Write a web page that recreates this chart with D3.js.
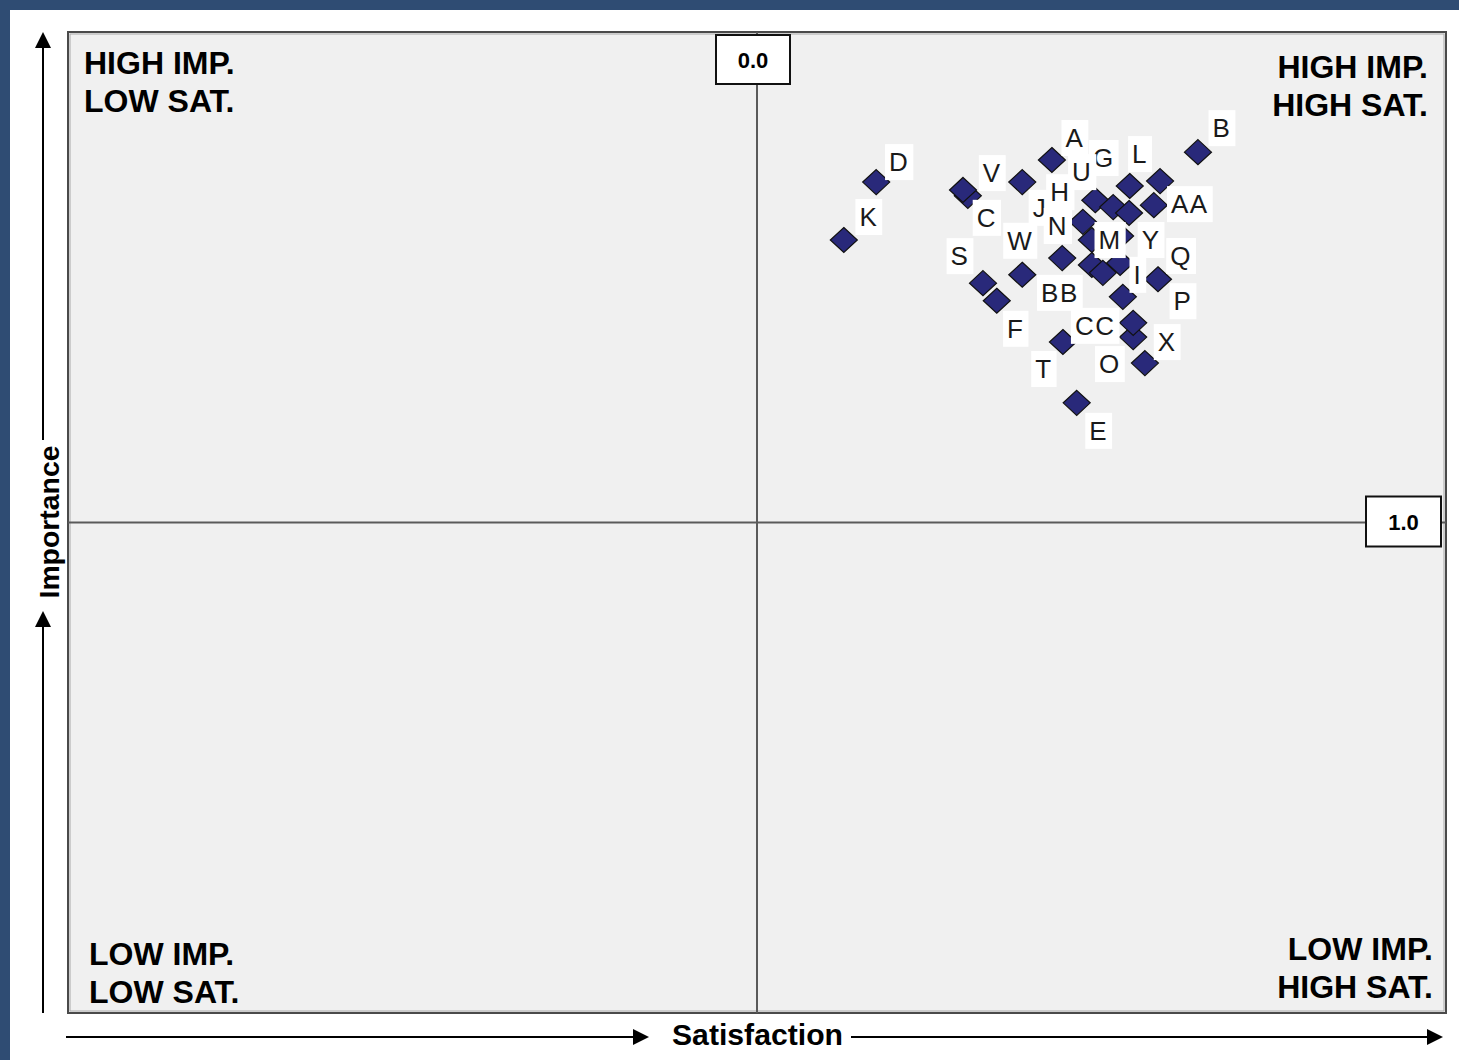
<!DOCTYPE html>
<html><head><meta charset="utf-8">
<script src="https://cdn.jsdelivr.net/npm/d3@7"></script>
<style>html,body{margin:0;padding:0;background:#fff;}svg{display:block;}</style>
</head><body>
<script>
// ---- data ----
const names = ["A","B","C","D","E","F","G","H","I","J","K","L","M","N","O","P","Q","R","S","T","U","V","W","X","Y","Z","AA","BB","CC",""];
const satisfaction = [0.428,0.640,0.306,0.173,0.464,0.348,0.541,0.491,0.531,0.473,0.126,0.585,0.527,0.486,0.563,0.582,0.527,0.299,0.328,0.444,0.517,0.385,0.385,0.546,0.540,0.486,0.576,0.502,0.546,0.443];
const importance  = [1.739,1.755,1.666,1.694,1.244,1.452,1.686,1.657,1.460,1.613,1.576,1.696,1.584,1.576,1.325,1.496,1.529,1.678,1.488,1.368,1.643,1.694,1.505,1.378,1.631,1.525,1.647,1.509,1.407,1.539];
const showLabel = [1,1,1,1,1,1,1,1,1,1,1,1,1,1,1,1,1,0,1,1,1,1,1,1,1,0,1,1,1,0];
const xTickLabel = "0.0", xTickValue = 0;
const yTickLabel = "1.0", yTickValue = 1;
const quadrantTitles = [["HIGH IMP.","LOW SAT."],["HIGH IMP.","HIGH SAT."],["LOW IMP.","LOW SAT."],["LOW IMP.","HIGH SAT."]];
const xTitle = "Satisfaction", yTitle = "Importance";

// ---- layout (label placement offsets, px) ----
const labelDx = [23,24,19,23,22,19,-26,-35,15,-43,25,-20,-10,-34,-35,25,61,0,-23,-19,-31,-30,-2,34,22,0,36,-43,-38,0];
const labelDy = [-22,-24,22,-20,28,28,-28,-8,-22,-14,-23,-27,4,-14,1,22,-7,0,-27,27,-35,-9,-34,5,27,0,-1,20,3,0];

const W = 1459, H = 1060;
const L = 68, R = 1446, T = 32, B = 1013;
const svg = d3.select("body").append("svg").attr("width", W).attr("height", H);

svg.append("rect").attr("x",0).attr("y",0).attr("width",W).attr("height",H).attr("fill","#fff");
svg.append("rect").attr("x",0).attr("y",0).attr("width",W).attr("height",10).attr("fill","#2f4c73");
svg.append("rect").attr("x",0).attr("y",0).attr("width",10).attr("height",H).attr("fill","#2f4c73");

const x = d3.scaleLinear().domain([-1,1]).range([L,R]);
const y = d3.scaleLinear().domain([0,2]).range([B,T]);

// plot area
svg.append("rect").attr("x",L).attr("y",T).attr("width",R-L).attr("height",B-T)
  .attr("fill","#f0f0f0").attr("stroke","#4a4a4a").attr("stroke-width",2);
svg.append("rect").attr("x",L+2).attr("y",T+2).attr("width",R-L-4).attr("height",B-T-4)
  .attr("fill","none").attr("stroke","#a8a8a8").attr("stroke-width",1);

// quadrant dividers
svg.append("line").attr("x1",x(xTickValue)).attr("x2",x(xTickValue)).attr("y1",T).attr("y2",B)
  .attr("stroke","#5a5a5a").attr("stroke-width",2);
svg.append("line").attr("x1",L).attr("x2",R).attr("y1",y(yTickValue)).attr("y2",y(yTickValue))
  .attr("stroke","#5a5a5a").attr("stroke-width",2);

// quadrant titles
const qf = "'Liberation Sans', Arial, sans-serif";
function qText(lines, xx, yy, anchor){
  lines.forEach((t,i)=>{
    svg.append("text").attr("x",xx).attr("y",yy+i*38).attr("text-anchor",anchor)
      .attr("font-family",qf).attr("font-weight","bold").attr("font-size",32).attr("fill","#000").text(t);
  });
}
qText(quadrantTitles[0], 84, 74, "start");
qText(quadrantTitles[1], 1428, 78, "end");
qText(quadrantTitles[2], 89, 965, "start");
qText(quadrantTitles[3], 1433, 960, "end");

// points
const diamond = "M0,-12.5L13.5,0L0,12.5L-13.5,0Z";
const pts = names.map((n,i)=>({n, sx:satisfaction[i], im:importance[i], show:showLabel[i], dx:labelDx[i], dy:labelDy[i]}));
svg.append("g").selectAll("path").data(pts).join("path")
  .attr("d", diamond)
  .attr("transform", d=>`translate(${x(d.sx)},${y(d.im)})`)
  .attr("fill","#29297a").attr("stroke","#111").attr("stroke-width",1.2);

const lg = svg.append("g");
pts.filter(d=>d.show).forEach(d=>{
  const g = lg.append("g").attr("transform",`translate(${x(d.sx)+d.dx},${y(d.im)+d.dy})`);
  const bg = g.append("rect").attr("fill","#fff");
  const t = g.append("text").attr("text-anchor","middle").attr("dominant-baseline","central")
    .attr("font-family",qf).attr("font-size",26).attr("fill","#1a1a1a").attr("letter-spacing",1.5).text(d.n);
  const bb = t.node().getBBox();
  bg.attr("x",bb.x-4).attr("y",-18).attr("width",bb.width+8).attr("height",36);
});

// tick boxes
function tickBox(cx, cy, w, h, label){
  svg.append("rect").attr("x",cx-w/2).attr("y",cy-h/2).attr("width",w).attr("height",h)
    .attr("fill","#fff").attr("stroke","#111").attr("stroke-width",2);
  svg.append("text").attr("x",cx).attr("y",cy+1).attr("text-anchor","middle").attr("dominant-baseline","central")
    .attr("font-family",qf).attr("font-weight","bold").attr("font-size",22).text(label);
}
tickBox(x(xTickValue)-4, 59.5, 74, 49, xTickLabel);
tickBox(1403.5, y(yTickValue)-1, 75, 50, yTickLabel);

// axis arrows
function arrowHead(tx, ty, dir){
  const s=16, w=8;
  let p;
  if(dir==="up") p=`M${tx},${ty}L${tx-w},${ty+s}L${tx+w},${ty+s}Z`;
  else p=`M${tx},${ty}L${tx-s},${ty-w}L${tx-s},${ty+w}Z`;
  svg.append("path").attr("d",p).attr("fill","#000");
}
const ax = 43;
svg.append("line").attr("x1",ax).attr("x2",ax).attr("y1",B).attr("y2",620).attr("stroke","#000").attr("stroke-width",2);
arrowHead(ax,611,"up");
svg.append("line").attr("x1",ax).attr("x2",ax).attr("y1",440).attr("y2",42).attr("stroke","#000").attr("stroke-width",2);
arrowHead(ax,32,"up");
svg.append("text").attr("transform",`translate(59,522) rotate(-90)`).attr("text-anchor","middle")
  .attr("font-family",qf).attr("font-weight","bold").attr("font-size",27)
  .attr("textLength",153).attr("lengthAdjust","spacingAndGlyphs").text(yTitle);

const ay = 1037;
svg.append("line").attr("x1",66).attr("x2",638).attr("y1",ay).attr("y2",ay).attr("stroke","#000").attr("stroke-width",2);
arrowHead(649,ay,"right");
svg.append("line").attr("x1",851).attr("x2",1432).attr("y1",ay).attr("y2",ay).attr("stroke","#000").attr("stroke-width",2);
arrowHead(1443,ay,"right");
svg.append("text").attr("x",757.5).attr("y",1045).attr("text-anchor","middle")
  .attr("font-family",qf).attr("font-weight","bold").attr("font-size",29)
  .attr("textLength",171).attr("lengthAdjust","spacingAndGlyphs").text(xTitle);
</script>
</body></html>
